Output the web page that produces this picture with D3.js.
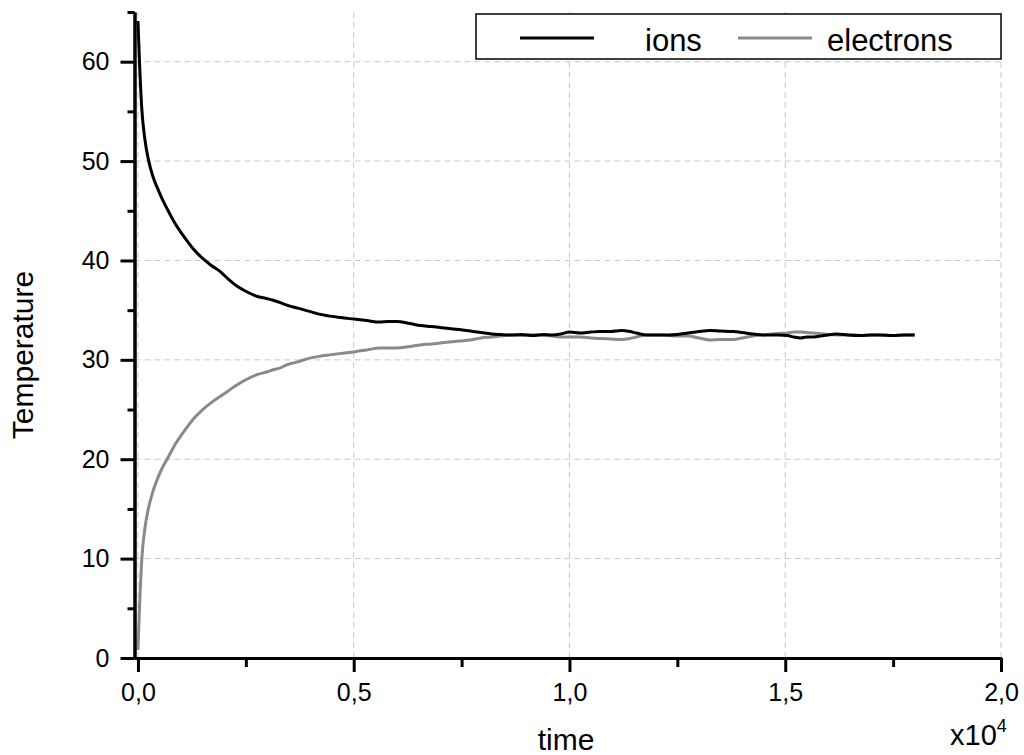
<!DOCTYPE html>
<html>
<head>
<meta charset="utf-8">
<script src="https://cdn.jsdelivr.net/npm/d3@7"></script>
<style>
  html, body { margin: 0; padding: 0; background: #fff; }
  svg { display: block; font-family: "Liberation Sans", Arial, sans-serif; }
</style>
</head>
<body>
<svg id="chart" width="1024" height="755"></svg>
<script>
// ---- data ----
const time = [0, 40, 90, 160, 240, 350, 450, 550, 700, 850, 1000, 1100, 1275, 1500, 1700, 1900, 2100, 2300, 2500, 2750, 3000, 3130, 3300, 3450, 3700, 4000, 4200, 4450, 4700, 5000, 5300, 5600, 5800, 6000, 6300, 6550, 6800, 7100, 7450, 7700, 7950, 8200, 8400, 8650, 8900, 9150, 9400, 9600, 9800, 10000, 10250, 10500, 10700, 10950, 11200, 11400, 11550, 11800, 12050, 12300, 12500, 12750, 13000, 13250, 13500, 13800, 14000, 14250, 14500, 14700, 14850, 15050, 15200, 15350, 15500, 15650, 15900, 16200, 16450, 16750, 17000, 17200, 17500, 17750, 18000];
const ions = [64.1, 59.5, 55.2, 52.2, 50.2, 48.4, 47.3, 46.3, 45.0, 43.8, 42.8, 42.2, 41.2, 40.2, 39.5, 38.9, 38.1, 37.4, 36.9, 36.4, 36.15, 36.0, 35.75, 35.5, 35.2, 34.85, 34.6, 34.4, 34.25, 34.1, 33.95, 33.8, 33.85, 33.85, 33.65, 33.45, 33.35, 33.2, 33.05, 32.9, 32.75, 32.6, 32.55, 32.5, 32.55, 32.45, 32.55, 32.5, 32.6, 32.8, 32.7, 32.8, 32.85, 32.85, 32.95, 32.85, 32.7, 32.5, 32.5, 32.5, 32.55, 32.7, 32.85, 32.95, 32.9, 32.85, 32.75, 32.6, 32.5, 32.5, 32.5, 32.45, 32.3, 32.2, 32.3, 32.3, 32.45, 32.6, 32.5, 32.45, 32.5, 32.5, 32.45, 32.5, 32.5];
const electrons = [0.8, 5.5, 10.0, 13.0, 15.0, 16.8, 18.0, 19.0, 20.2, 21.4, 22.4, 23.0, 24.0, 25.0, 25.7, 26.3, 26.9, 27.5, 28.0, 28.5, 28.8, 29.0, 29.2, 29.5, 29.8, 30.2, 30.35, 30.5, 30.65, 30.8, 31.0, 31.2, 31.2, 31.2, 31.35, 31.5, 31.6, 31.75, 31.9, 32.0, 32.2, 32.3, 32.4, 32.5, 32.45, 32.5, 32.45, 32.4, 32.3, 32.3, 32.3, 32.2, 32.15, 32.1, 32.05, 32.15, 32.3, 32.5, 32.5, 32.45, 32.4, 32.4, 32.2, 32.0, 32.05, 32.05, 32.2, 32.4, 32.5, 32.6, 32.65, 32.7, 32.8, 32.8, 32.75, 32.7, 32.6, 32.5, 32.5, 32.45, 32.5, 32.5, 32.45, 32.5, 32.5];

const seriesNames = ["ions", "electrons"];
const seriesColors = ["#000000", "#8a8a8a"];

const xMajorTicks = [0, 5000, 10000, 15000, 20000];
const xMajorLabels = ["0,0", "0,5", "1,0", "1,5", "2,0"];
const xMinorTicks = [2500, 7500, 12500, 17500];
const yMajorTicks = [0, 10, 20, 30, 40, 50, 60];
const yMinorTicks = [5, 15, 25, 35, 45, 55, 65];

const xTitle = "time";
const yTitle = "Temperature";

// ---- layout ----
const svg = d3.select("#chart");
const x = d3.scaleLinear().domain([-80, 20000]).range([134.5, 1001]);
const y = d3.scaleLinear().domain([0, 65]).range([658, 12]);

// grid
const grid = svg.append("g").attr("stroke", "#c8c8c8").attr("stroke-width", 1).attr("stroke-dasharray", "6,4");
grid.selectAll("line.v").data(xMajorTicks).enter().append("line")
  .attr("x1", d => x(d)).attr("x2", d => x(d)).attr("y1", y(0)).attr("y2", y(65));
grid.selectAll("line.h").data(yMajorTicks.filter(d => d > 0)).enter().append("line")
  .attr("x1", x.range()[0]).attr("x2", x.range()[1]).attr("y1", d => y(d)).attr("y2", d => y(d));

// lines
const pts = (vals) => time.map((t, i) => [t, vals[i]]);
const line = d3.line().x(d => x(d[0])).y(d => y(d[1])).curve(d3.curveMonotoneX);
svg.append("path").datum(pts(electrons)).attr("d", line)
  .attr("fill", "none").attr("stroke", seriesColors[1]).attr("stroke-width", 3).attr("stroke-linejoin", "round");
svg.append("path").datum(pts(ions)).attr("d", line)
  .attr("fill", "none").attr("stroke", seriesColors[0]).attr("stroke-width", 3).attr("stroke-linejoin", "round");

// axes
function styleAxis(g) {
  g.select(".domain").attr("stroke", "#000").attr("stroke-width", 3);
  g.selectAll(".tick line").attr("stroke", "#000").attr("stroke-width", 3);
  g.selectAll(".tick text").attr("fill", "#000").style("font-size", "25px")
    .style("font-family", "'Liberation Sans', Arial, sans-serif");
}
const xAxis = svg.append("g").attr("transform", `translate(0,${y(0)})`)
  .call(d3.axisBottom(x).tickValues(xMajorTicks).tickSize(14).tickSizeOuter(0).tickPadding(11)
    .tickFormat((d, i) => xMajorLabels[i]));
styleAxis(xAxis);
const xAxisMinor = svg.append("g").attr("transform", `translate(0,${y(0)})`)
  .call(d3.axisBottom(x).tickValues(xMinorTicks).tickSize(9).tickSizeOuter(0).tickFormat(""));
styleAxis(xAxisMinor);

const yAxis = svg.append("g").attr("transform", `translate(${x.range()[0]},0)`)
  .call(d3.axisLeft(y).tickValues(yMajorTicks).tickSize(14).tickSizeOuter(0).tickPadding(11)
    .tickFormat(d3.format("d")));
styleAxis(yAxis);
const yAxisMinor = svg.append("g").attr("transform", `translate(${x.range()[0]},0)`)
  .call(d3.axisLeft(y).tickValues(yMinorTicks).tickSize(7).tickSizeOuter(0).tickFormat(""));
styleAxis(yAxisMinor);

// axis titles
svg.append("text").attr("x", 566).attr("y", 750).attr("text-anchor", "middle")
  .style("font-size", "30px").text(xTitle);
svg.append("text").attr("transform", "translate(33,355) rotate(-90)").attr("text-anchor", "middle")
  .style("font-size", "30px").text(yTitle);

// multiplier
const mult = svg.append("text").attr("x", 950).attr("y", 745).style("font-size", "29px");
mult.append("tspan").text("x10");
mult.append("tspan").attr("dy", -13).style("font-size", "18px").text("4");

// legend
const lg = svg.append("g");
lg.append("rect").attr("x", 476).attr("y", 14).attr("width", 525).attr("height", 45)
  .attr("fill", "#fff").attr("stroke", "#000").attr("stroke-width", 1.5);
const legendItems = [
  { lx: 520, tx: 645 },
  { lx: 738, tx: 827 }
];
seriesNames.forEach((name, i) => {
  lg.append("line").attr("x1", legendItems[i].lx).attr("x2", legendItems[i].lx + 74)
    .attr("y1", 38).attr("y2", 38).attr("stroke", seriesColors[i]).attr("stroke-width", 3);
  lg.append("text").attr("x", legendItems[i].tx).attr("y", 51).style("font-size", "31px").text(name);
});
</script>
</body>
</html>
